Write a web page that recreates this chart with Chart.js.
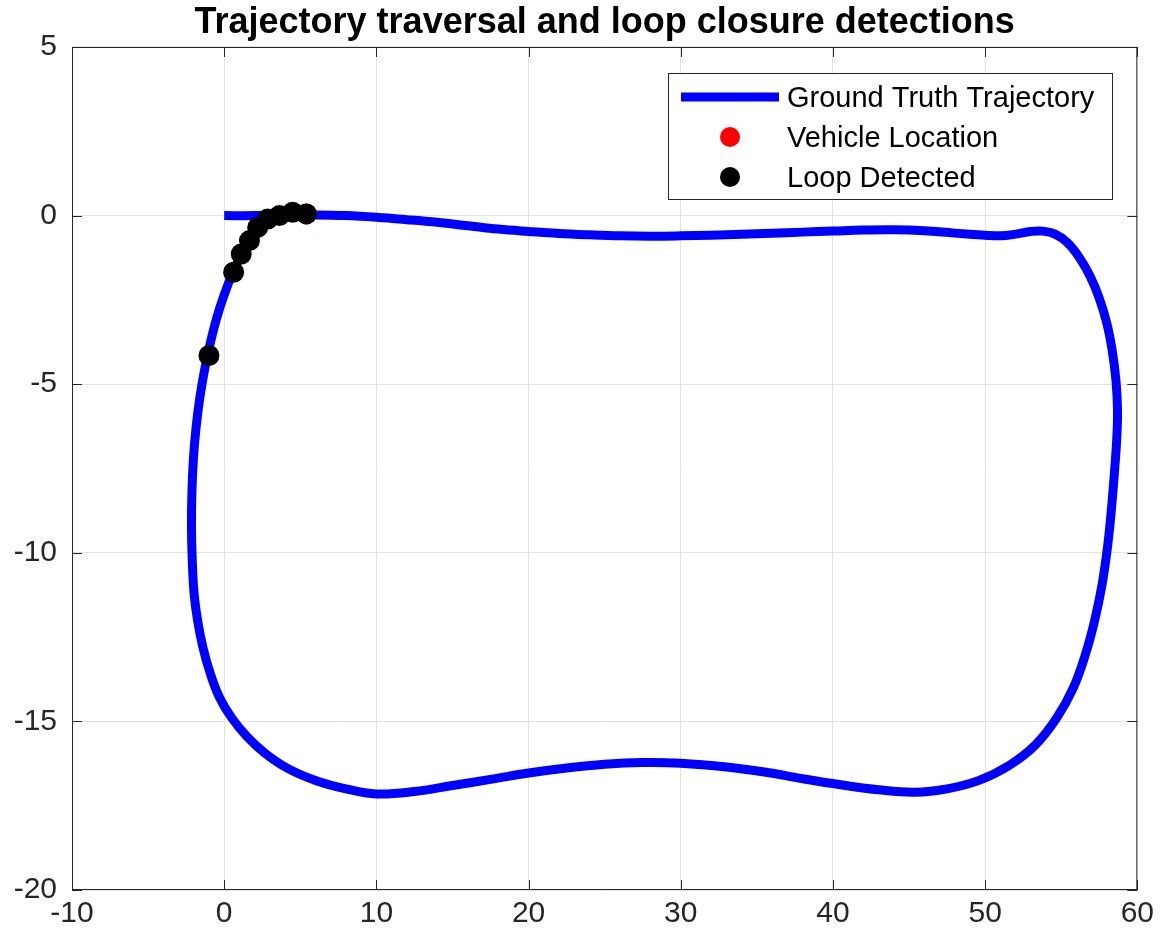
<!DOCTYPE html>
<html>
<head>
<meta charset="utf-8">
<script src="https://cdn.jsdelivr.net/npm/chart.js@4.4.1/dist/chart.umd.min.js"></script>
<style>
  html, body { margin: 0; padding: 0; background: #fff; }
  #wrap { width: 1160px; height: 940px; }
</style>
</head>
<body>
<div id="wrap"><canvas id="traj" width="1160" height="940"></canvas></div>
<script>
// ground truth path (metres)
const trajX = [0, 2, 4, 6, 8, 10, 12, 14, 16, 18, 20, 22, 24, 26, 28, 30, 32, 34, 36, 38, 40, 42, 44, 46, 48, 50, 51, 52, 53, 53.8, 54.6, 55.4, 56.2, 56.9, 57.5, 58.0, 58.35, 58.6, 58.7, 58.65, 58.5, 58.3, 58.05, 57.7, 57.2, 56.6, 55.8, 54.7, 53.3, 51.6, 49.6, 47.5, 45.4, 43, 40.5, 38, 35.5, 33, 30, 27.5, 25, 22.5, 20, 17.5, 15, 12.5, 10, 8, 6, 4.2, 2.7, 1.5, 0.5, -0.3, -0.9, -1.4, -1.75, -1.98, -2.1, -2.15, -2.12, -2.02, -1.85, -1.6, -1.3, -0.95, -0.5, 0, 0.55, 1.1, 1.65, 2.3, 3.0, 3.8, 4.6, 5.4];
const trajY = [0, 0, 0.02, 0.02, 0, -0.05, -0.12, -0.2, -0.3, -0.4, -0.47, -0.53, -0.57, -0.6, -0.61, -0.6, -0.58, -0.55, -0.52, -0.49, -0.46, -0.43, -0.42, -0.45, -0.52, -0.58, -0.6, -0.55, -0.47, -0.46, -0.55, -0.8, -1.25, -1.8, -2.45, -3.2, -4.0, -4.9, -5.8, -6.6, -7.6, -8.7, -9.8, -10.9, -12.0, -13.0, -14.0, -14.9, -15.7, -16.3, -16.75, -17.0, -17.1, -17.03, -16.88, -16.7, -16.5, -16.35, -16.24, -16.22, -16.27, -16.38, -16.53, -16.72, -16.9, -17.08, -17.15, -17.0, -16.75, -16.4, -15.95, -15.45, -14.9, -14.3, -13.6, -12.8, -12.0, -11.2, -10.2, -9.2, -8.2, -7.2, -6.3, -5.4, -4.6, -3.85, -3.05, -2.35, -1.7, -1.18, -0.75, -0.36, -0.1, 0.02, 0.06, 0.05];

// current vehicle position (sits under the last loop marker)
const vehicleX = [5.4];
const vehicleY = [0.05];

// loop closure detections
const loopX = [-1.0, 0.62, 1.12, 1.66, 2.2, 2.86, 3.63, 4.5, 5.4];
const loopY = [-4.15, -1.68, -1.14, -0.74, -0.35, -0.1, 0.0, 0.1, 0.05];

const labels = ['Ground Truth Trajectory', 'Vehicle Location', 'Loop Detected'];

const toPoints = (xs, ys) => xs.map((x, i) => ({ x, y: ys[i] }));

const FONT = '"Liberation Sans", Arial, Helvetica, sans-serif';
const AXIS = '#262626';

// matlab style box + inward ticks + legend
const matlabBox = {
  id: 'matlabBox',
  afterDraw(chart) {
    const { ctx, chartArea: a, scales } = chart;
    ctx.save();
    ctx.strokeStyle = AXIS;
    ctx.lineWidth = 1;
    ctx.strokeRect(a.left + 0.5, a.top + 0.5, a.right - a.left - 1, a.bottom - a.top - 1);
    const len = 10;
    ctx.beginPath();
    scales.x.ticks.forEach(t => {
      const px = Math.round(scales.x.getPixelForValue(t.value)) + 0.5;
      ctx.moveTo(px, a.bottom); ctx.lineTo(px, a.bottom - len);
      ctx.moveTo(px, a.top); ctx.lineTo(px, a.top + len);
    });
    scales.y.ticks.forEach(t => {
      const py = Math.round(scales.y.getPixelForValue(t.value)) + 0.5;
      ctx.moveTo(a.left, py); ctx.lineTo(a.left + len, py);
      ctx.moveTo(a.right, py); ctx.lineTo(a.right - len, py);
    });
    ctx.stroke();

    // legend
    const bx = 668, by = 73, bw = 444, bh = 126;
    ctx.fillStyle = '#fff';
    ctx.fillRect(bx, by, bw, bh);
    ctx.strokeStyle = AXIS;
    ctx.strokeRect(bx + 0.5, by + 0.5, bw, bh);
    const rows = [98, 138, 178];
    ctx.font = '29px ' + FONT;
    ctx.textBaseline = 'middle';
    ctx.textAlign = 'left';
    chart.data.datasets.forEach((ds, i) => {
      const y = rows[i];
      if (ds.showLine) {
        ctx.strokeStyle = ds.borderColor;
        ctx.lineWidth = ds.borderWidth;
        ctx.beginPath();
        ctx.moveTo(681, y - 1); ctx.lineTo(779, y - 1);
        ctx.stroke();
      } else {
        ctx.fillStyle = ds.backgroundColor;
        ctx.beginPath();
        ctx.arc(730, y - 1, 10, 0, Math.PI * 2);
        ctx.fill();
      }
      ctx.fillStyle = '#000';
      ctx.fillText(ds.label, 787, y + 1);
    });
    ctx.restore();
  }
};

new Chart(document.getElementById('traj'), {
  type: 'scatter',
  data: {
    datasets: [
      {
        label: labels[0],
        data: toPoints(trajX, trajY),
        showLine: true,
        borderColor: '#0000ff',
        backgroundColor: '#0000ff',
        borderWidth: 9,
        borderCapStyle: 'butt',
        borderJoinStyle: 'round',
        tension: 0.4,
        pointRadius: 0,
        order: 3
      },
      {
        label: labels[1],
        data: toPoints(vehicleX, vehicleY),
        showLine: false,
        backgroundColor: '#ff0000',
        borderWidth: 0,
        pointRadius: 10.5,
        order: 2
      },
      {
        label: labels[2],
        data: toPoints(loopX, loopY),
        showLine: false,
        backgroundColor: '#000000',
        borderWidth: 0,
        pointRadius: 10.5,
        order: 1
      }
    ]
  },
  options: {
    responsive: false,
    animation: false,
    layout: { padding: { top: 0, right: 20, bottom: 0, left: 0 } },
    plugins: {
      legend: { display: false },
      tooltip: { enabled: false },
      title: {
        display: true,
        text: 'Trajectory traversal and loop closure detections',
        fullSize: false,
        color: '#000',
        font: { family: FONT, size: 36, weight: 'bold', lineHeight: 1.2 },
        padding: { top: 1, bottom: 2.8 }
      }
    },
    scales: {
      x: {
        type: 'linear',
        min: -10,
        max: 60,
        ticks: { stepSize: 10, color: AXIS, font: { family: FONT, size: 30 }, padding: 6 },
        grid: { color: '#e3e3e3', drawTicks: false },
        border: { display: false },
        afterFit(scale) { scale.height = 50; }
      },
      y: {
        type: 'linear',
        min: -20,
        max: 5,
        ticks: { stepSize: 5, color: AXIS, font: { family: FONT, size: 30 }, padding: 15 },
        grid: { color: '#e3e3e3', drawTicks: false },
        border: { display: false },
        afterFit(scale) { scale.width = 72; }
      }
    }
  },
  plugins: [matlabBox]
});
</script>
</body>
</html>
